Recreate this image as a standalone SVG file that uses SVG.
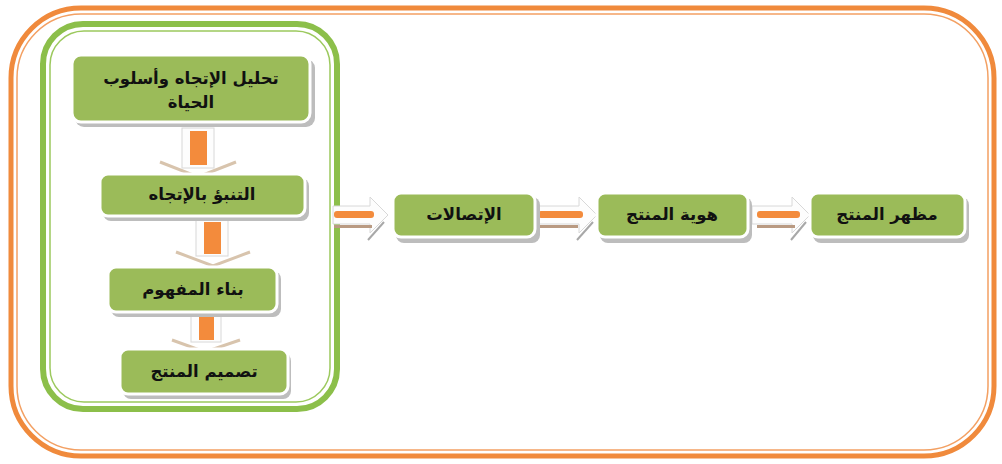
<svg xmlns="http://www.w3.org/2000/svg" width="1002" height="464" viewBox="0 0 1002 464">
<defs>
<style>
.box{fill:#9bbb59;stroke:#ffffff;stroke-width:3}
.shadow{fill:#bdbdbd}
.lbl{font-family:"DejaVu Sans",sans-serif;font-weight:bold;font-size:16.5px;fill:#111;text-anchor:middle}
.bar{fill:#f38b3c}
.shell{fill:#fdfdfd;stroke:#d8d8d8;stroke-width:1}
.chev{fill:none;stroke:#d8c4ad;stroke-width:3;stroke-linejoin:miter}
.diag{stroke:#a8a8a8;stroke-width:2}
</style>
</defs>
<rect width="1002" height="464" fill="#ffffff"/>
<!-- outer orange frame -->
<rect x="11" y="8" width="983" height="448" rx="70" fill="none" stroke="#f08a3c" stroke-width="5"/>
<rect x="17" y="14" width="971" height="436" rx="64" fill="none" stroke="#f3a063" stroke-width="1.5"/>
<!-- green container -->
<rect x="43" y="24" width="294" height="385" rx="40" fill="none" stroke="#8cbf4a" stroke-width="6"/>
<rect x="50" y="31" width="280" height="371" rx="34" fill="none" stroke="#9cc95e" stroke-width="1.5"/>

<g id="connectors">
  <g>
    <rect class="shell" x="182" y="128" width="32" height="40"/>
    <rect class="bar" x="190" y="131" width="17" height="34"/>
    <polyline class="chev" points="160,162 198,177 236,162"/>
  </g>
  <g>
    <rect class="shell" x="196" y="220" width="32" height="36"/>
    <rect class="bar" x="204" y="222" width="17" height="32"/>
    <polyline class="chev" points="176,252 213,266 250,252"/>
  </g>
  <g>
    <rect class="shell" x="191" y="314" width="30" height="28"/>
    <rect class="bar" x="199" y="316" width="15" height="24"/>
    <polyline class="chev" points="172,340 205,352 240,340"/>
  </g>
  <g>
    <polygon class="shell" points="333,206 370,206 370,197 388,215 370,233 370,224 333,224"/>
    <rect class="bar" x="334" y="211" width="40" height="7" rx="3"/>
    <rect x="334" y="225" width="38" height="3" fill="#b99a82"/>
    <line class="diag" x1="368" y1="240" x2="384" y2="222"/>
  </g>
  <g>
    <polygon class="shell" points="537,206 579,206 579,197 597,215 579,233 579,224 537,224"/>
    <rect class="bar" x="538" y="211" width="45" height="7" rx="3"/>
    <rect x="538" y="225" width="40" height="3" fill="#b99a82"/>
    <line class="diag" x1="577" y1="240" x2="593" y2="222"/>
  </g>
  <g>
    <polygon class="shell" points="752,206 792,206 792,197 810,215 792,233 792,224 752,224"/>
    <rect class="bar" x="757" y="211" width="43" height="7" rx="3"/>
    <rect x="757" y="225" width="38" height="3" fill="#b99a82"/>
    <line class="diag" x1="791" y1="240" x2="806" y2="222"/>
  </g>
</g>

<g id="node1">
  <rect class="shadow" x="75" y="59" width="240" height="68" rx="9"/>
  <rect class="box" x="72" y="55" width="238" height="67" rx="9"/>
  <text class="lbl" x="191" y="84" direction="rtl">تحليل الإتجاه وأسلوب</text>
  <text class="lbl" x="191" y="108" direction="rtl">الحياة</text>
</g>
<g id="node2">
  <rect class="shadow" x="103" y="178" width="206" height="43" rx="8"/>
  <rect class="box" x="100" y="174" width="205" height="42" rx="8"/>
  <text class="lbl" x="202" y="200" direction="rtl">التنبؤ بالإتجاه</text>
</g>
<g id="node3">
  <rect class="shadow" x="111" y="271" width="170" height="46" rx="8"/>
  <rect class="box" x="108" y="267" width="169" height="45" rx="8"/>
  <text class="lbl" x="193" y="295" direction="rtl">بناء المفهوم</text>
</g>
<g id="node4">
  <rect class="shadow" x="123" y="353" width="168" height="46" rx="8"/>
  <rect class="box" x="120" y="349" width="168" height="45" rx="8"/>
  <text class="lbl" x="204" y="377" direction="rtl">تصميم المنتج</text>
</g>
<g id="node5">
  <rect class="shadow" x="396" y="197" width="144" height="46" rx="8"/>
  <rect class="box" x="393" y="193" width="142" height="44" rx="8"/>
  <text class="lbl" x="464" y="220" direction="rtl">الإتصالات</text>
</g>
<g id="node6">
  <rect class="shadow" x="600" y="197" width="152" height="46" rx="8"/>
  <rect class="box" x="597" y="193" width="151" height="44" rx="8"/>
  <text class="lbl" x="672" y="220" direction="rtl">هوية المنتج</text>
</g>
<g id="node7">
  <rect class="shadow" x="813" y="197" width="156" height="46" rx="8"/>
  <rect class="box" x="810" y="193" width="155" height="44" rx="8"/>
  <text class="lbl" x="887" y="220" direction="rtl">مظهر المنتج</text>
</g>
</svg>
